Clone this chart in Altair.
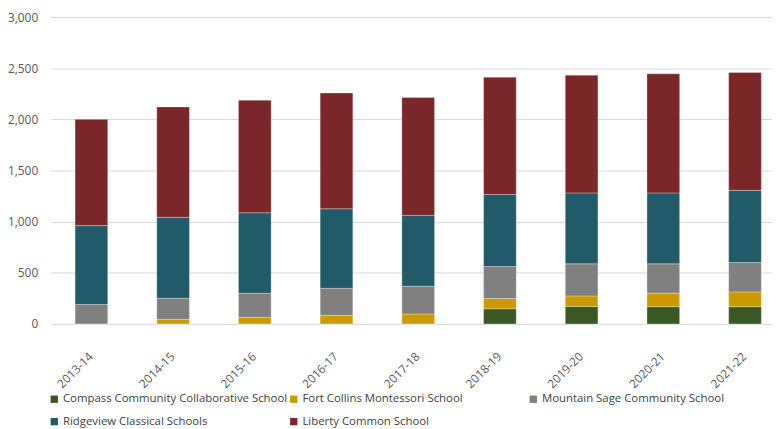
import altair as alt
import pandas as pd

years = ["2013-14", "2014-15", "2015-16", "2016-17", "2017-18",
         "2018-19", "2019-20", "2020-21", "2021-22"]
schools = ["Compass Community Collaborative School", "Fort Collins Montessori School",
           "Mountain Sage Community School", "Ridgeview Classical Schools",
           "Liberty Common School"]
colors = ["#3A5724", "#CC9A00", "#808080", "#215A69", "#7B2629"]

compass = [0, 0, 0, 0, 0, 148, 171, 168, 168]
fort_collins = [0, 45, 64, 84, 97, 100, 103, 132, 145]
mountain_sage = [190, 206, 236, 264, 271, 313, 313, 287, 287]
ridgeview = [771, 791, 787, 778, 693, 704, 694, 694, 706]
liberty = [1039, 1080, 1100, 1132, 1152, 1148, 1151, 1164, 1152]

series = [compass, fort_collins, mountain_sage, ridgeview, liberty]
rows = []
for si, (name, vals) in enumerate(zip(schools, series)):
    for y, v in zip(years, vals):
        rows.append({"year": y, "school": name, "value": v, "idx": si})
df = pd.DataFrame(rows)

FONT = "Open Sans"

chart = alt.Chart(df).mark_bar(
    stroke="white", strokeWidth=0.6, strokeOpacity=0.5
).encode(
    x=alt.X("year:N", sort=years, title=None,
            scale=alt.Scale(paddingInner=0.6, paddingOuter=0.3, range=[0, 743]),
            axis=alt.Axis(labelAngle=-45, labelFontSize=12, labelColor="#595959",
                          labelFont=FONT, ticks=False, domain=False, grid=False,
                          labelPadding=27, labelOffset=-4)),
    y=alt.Y("value:Q", title=None, stack="zero",
            scale=alt.Scale(domain=[0, 3000], nice=False),
            axis=alt.Axis(values=[0, 500, 1000, 1500, 2000, 2500, 3000], format=",d",
                          labelFontSize=12, labelColor="#595959", labelFont=FONT,
                          ticks=False, domain=False, gridColor="#D9D9D9",
                          gridWidth=1, labelPadding=13)),
    color=alt.Color("school:N", sort=schools,
                    scale=alt.Scale(domain=schools, range=colors),
                    legend=alt.Legend(title=None, orient="none", legendX=-2, legendY=380,
                                      direction="horizontal",
                                      columns=3, gridAlign="all", columnPadding=0,
                                      rowPadding=10, symbolType="square", symbolSize=55,
                                      symbolStrokeWidth=0, labelFontSize=11.5,
                                      labelColor="#404040", labelFont=FONT,
                                      symbolOffset=0, labelOffset=3, labelLimit=300)),
    order=alt.Order("idx:Q", sort="ascending"),
).properties(
    width=729, height=310,
    autosize=alt.AutoSizeParams(type="none"),
    padding={"left": 43, "top": 7, "right": 0, "bottom": 104},
).configure_view(stroke=None)

chart.save("out.html", embed_options={"renderer": "svg", "actions": False})
